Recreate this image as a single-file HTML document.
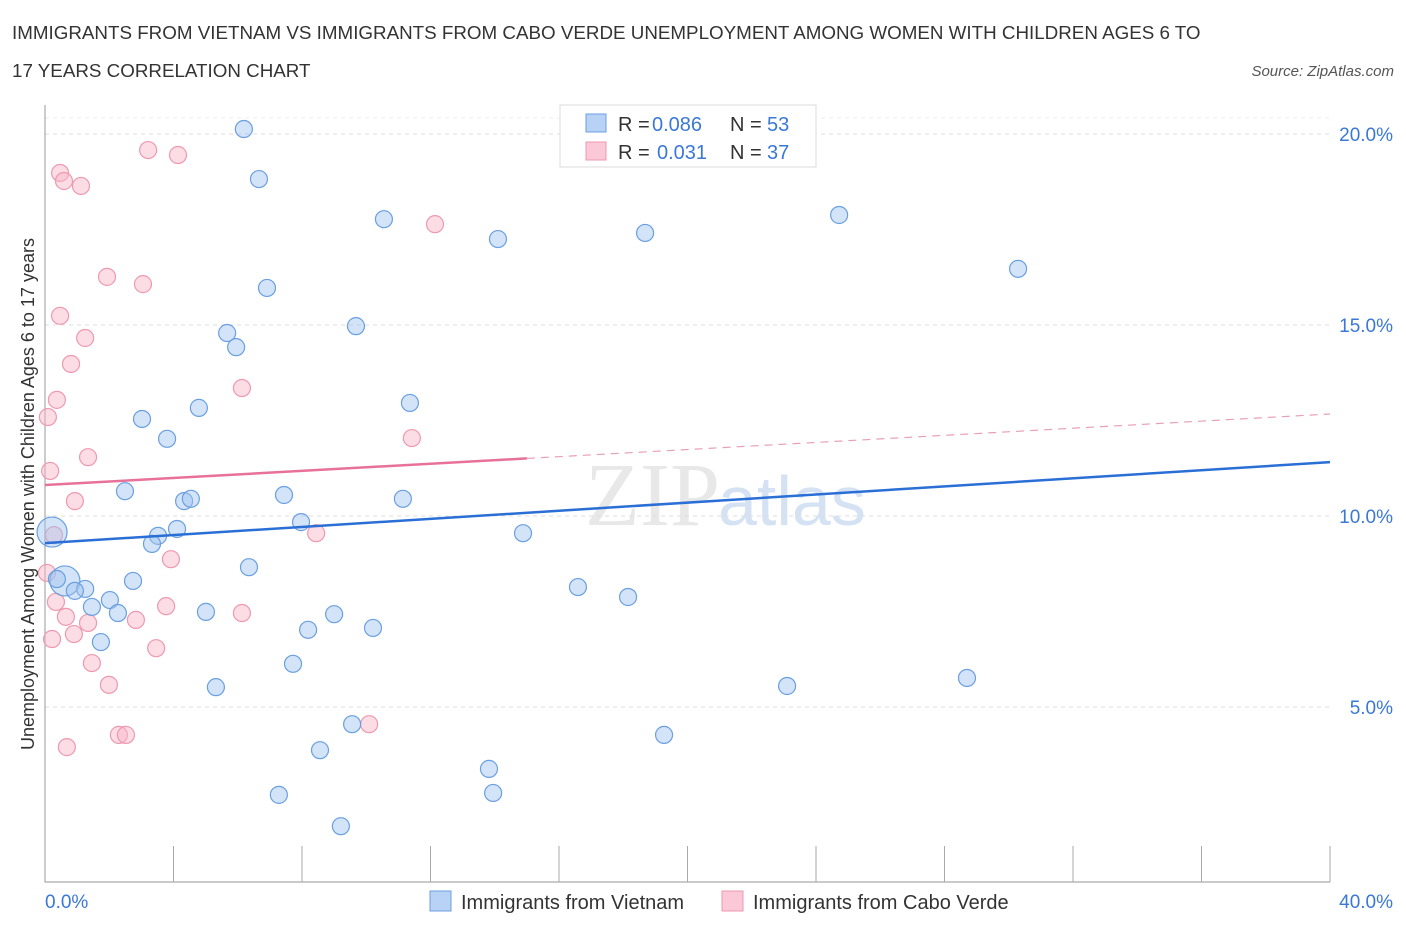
<!DOCTYPE html>
<html><head><meta charset="utf-8"><style>
body{margin:0;background:#fff;font-family:"Liberation Sans",sans-serif;}
</style></head><body>
<svg id="c" width="1406" height="930" xmlns="http://www.w3.org/2000/svg">
<text x="12" y="39" font-size="18.8" fill="#333">IMMIGRANTS FROM VIETNAM VS IMMIGRANTS FROM CABO VERDE UNEMPLOYMENT AMONG WOMEN WITH CHILDREN AGES 6 TO</text>
<text x="12" y="77" font-size="18.8" fill="#333">17 YEARS CORRELATION CHART</text>
<text x="1394" y="76" font-size="15" font-style="italic" fill="#555" text-anchor="end">Source: ZipAtlas.com</text>
<text x="720" y="525" font-size="90" font-family="Liberation Serif" fill="#e8e8e8" text-anchor="end">ZIP</text>
<text x="718" y="525" font-size="70" fill="#d4e2f4">atlas</text>
<g id="grid"></g><g id="axes"></g><g id="pts"></g><g id="trend"></g>
<text transform="translate(34,494) rotate(-90)" font-size="18" fill="#333" text-anchor="middle">Unemployment Among Women with Children Ages 6 to 17 years</text>
<g font-size="20">
<rect x="560" y="105" width="256" height="62" fill="#fff" stroke="#ddd"/>
<rect x="586" y="114" width="20" height="18" fill="#b8d2f5" stroke="#6a9fe0"/>
<rect x="586" y="142" width="20" height="18" fill="#fac8d6" stroke="#ee99b0"/>
<text x="618" y="131" fill="#333">R =</text><text x="652" y="131" fill="#3a78d8">0.086</text>
<text x="730" y="131" fill="#333">N =</text><text x="767" y="131" fill="#3a78d8">53</text>
<text x="618" y="159" fill="#333">R =</text><text x="657" y="159" fill="#3a78d8">0.031</text>
<text x="730" y="159" fill="#333">N =</text><text x="767" y="159" fill="#3a78d8">37</text>
</g>
<g>
<rect x="430" y="891" width="21" height="20" fill="#b8d2f5" stroke="#6a9fe0"/>
<text x="461" y="909" font-size="20" fill="#333">Immigrants from Vietnam</text>
<rect x="722" y="891" width="21" height="20" fill="#fac8d6" stroke="#ee99b0"/>
<text x="753" y="909" font-size="20" fill="#333">Immigrants from Cabo Verde</text>
</g>
</svg>
<script>
const blueX=[6.19,6.66,10.55,14.10,18.68,24.72,30.29,6.91,5.67,5.95,9.68,11.36,4.79,3.02,3.80,2.49,4.33,4.54,7.44,11.14,7.97,4.11,3.52,3.33,14.88,0.22,6.35,2.74,0.62,0.37,1.25,0.93,2.02,1.46,2.27,5.01,9.00,8.19,10.21,16.59,18.15,1.74,7.72,5.32,23.10,28.70,9.56,8.56,19.27,13.82,7.28,13.95,9.21];
const blueY=[20.13,18.82,17.77,17.25,17.41,17.88,16.47,15.97,14.79,14.42,14.97,12.96,12.83,12.54,12.02,10.65,10.39,10.45,10.55,10.45,9.84,9.66,9.48,9.27,9.55,9.58,8.66,8.30,8.30,8.35,8.09,8.04,7.80,7.62,7.46,7.49,7.43,7.02,7.07,8.14,7.88,6.70,6.13,5.52,5.55,5.76,4.55,3.87,4.27,3.38,2.70,2.75,1.88];
const blueBig=[25,28];
const pinkX=[3.21,4.14,0.47,0.59,1.12,12.14,1.93,3.05,0.47,1.25,0.81,6.13,0.37,0.09,11.42,1.34,0.16,0.93,8.44,0.28,3.92,0.06,0.34,3.77,6.13,0.65,2.83,1.34,0.90,0.22,3.46,1.46,1.99,10.09,2.30,2.52,0.68];
const pinkY=[19.58,19.45,18.98,18.77,18.64,17.64,16.26,16.07,15.24,14.66,13.98,13.35,13.04,12.59,12.04,11.54,11.18,10.39,9.55,9.50,8.87,8.51,7.75,7.64,7.46,7.36,7.28,7.20,6.91,6.78,6.54,6.15,5.58,4.55,4.27,4.27,3.95];
const blueTrend=[9.29,11.41];
const pinkTrend=[10.81,12.67];
const pinkSolidEnd=15.0;
const yTicks=[5,10,15,20];
const yTickLabels=["5.0%","10.0%","15.0%","20.0%"];
const xLabels=["0.0%","40.0%"];
const NS="http://www.w3.org/2000/svg";
const sx=v=>45+v*1285/40, sy=v=>898-v*38.2;
function mk(p,t,a){const e=document.createElementNS(NS,t);for(const k in a)e.setAttribute(k,a[k]);document.getElementById(p).appendChild(e);return e;}
yTicks.forEach((t,i)=>{
 const g=mk('grid','line',{x1:45,x2:1330,y1:sy(t),y2:sy(t),stroke:'#ddd','stroke-dasharray':'4,4'});
 
 
 const l=mk('grid','text',{x:1393,y:sy(t)+7,'font-size':19,fill:'#3a78d8','text-anchor':'end'});
 l.textContent=yTickLabels[i];
 
 
});
mk('grid','line',{x1:45,x2:1330,y1:118,y2:118,stroke:'#eee','stroke-dasharray':'4,4'});
const ax=mk('axes','path',{d:'M45,105V882H1330',fill:'none',stroke:'#aaa','stroke-width':1.2});


for(let i=0;i<=10;i++){const x=sx(i*4);mk('axes','line',{x1:x,x2:x,y1:846,y2:882,stroke:'#aaa'});}
xLabels.forEach((s,i)=>{const t=mk('axes','text',{x:i?1393:45,y:908,'font-size':19,fill:'#3a78d8','text-anchor':i?'end':'start'});t.textContent=s;
 
 });
pinkX.forEach((v,i)=>{const c=mk('pts','circle',{cx:sx(v),cy:sy(pinkY[i]),r:8.5,fill:'rgba(248,180,200,0.45)',stroke:'#ee99b0','stroke-width':1.2});
 
 });
blueX.forEach((v,i)=>{const c=mk('pts','circle',{cx:sx(v),cy:sy(blueY[i]),r:blueBig.includes(i)?15:8.5,fill:'rgba(160,196,240,0.45)',stroke:'#6a9fe0','stroke-width':1.2});
 
 });
const bt=mk('trend','line',{x1:sx(0),y1:sy(blueTrend[0]),x2:sx(40),y2:sy(blueTrend[1]),stroke:'#2a6fd6','stroke-width':2.5});


const pm=pinkTrend[0]+(pinkTrend[1]-pinkTrend[0])*pinkSolidEnd/40;
const ps=mk('trend','line',{x1:sx(0),y1:sy(pinkTrend[0]),x2:sx(pinkSolidEnd),y2:sy(pm),stroke:'#e8719a','stroke-width':2.5});


const pd=mk('trend','line',{x1:sx(pinkSolidEnd),y1:sy(pm),x2:sx(40),y2:sy(pinkTrend[1]),stroke:'#e8a0b8','stroke-width':1.2,'stroke-dasharray':'8,6'});


</script>
</body></html>
